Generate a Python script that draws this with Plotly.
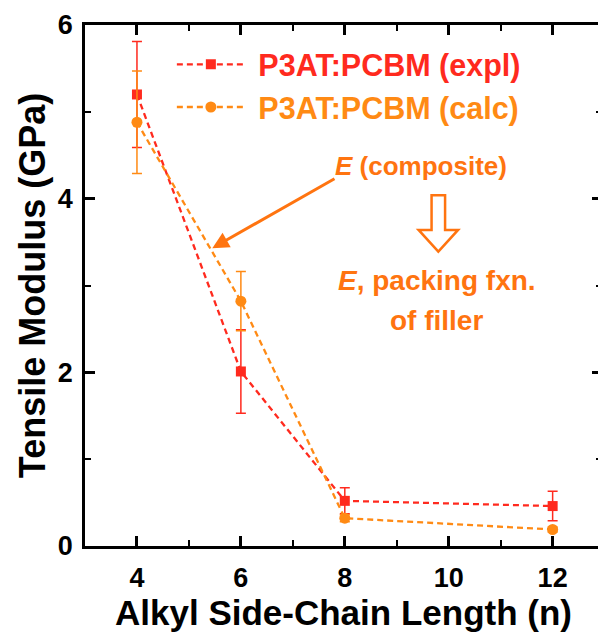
import plotly.graph_objects as go

# Data
n_values = [4, 6, 8, 12]
expl_modulus = [5.20, 2.01, 0.52, 0.46]
expl_err = [0.61, 0.48, 0.15, 0.17]
calc_modulus = [4.88, 2.82, 0.32, 0.19]
calc_err = [0.59, 0.34, 0.04, 0.03]

x_ticks = [4, 6, 8, 10, 12]
y_ticks = [0, 2, 4, 6]

RED = "#FF2A1E"
ORANGE = "#FF8A14"
ANN = "#FF7410"
FONT = "Liberation Sans, Arial, sans-serif"

fig = go.Figure()
fig.add_trace(go.Scatter(
    x=n_values, y=expl_modulus,
    name=f"&nbsp;<span style='color:{RED}'><b>P3AT:PCBM (expl)</b></span>",
    mode="lines+markers",
    line=dict(color=RED, width=2.3, dash="6px,4px"),
    marker=dict(symbol="square", size=10, color=RED),
    error_y=dict(type="data", array=expl_err, color=RED, thickness=1.5, width=5),
))
fig.add_trace(go.Scatter(
    x=n_values, y=calc_modulus,
    name=f"&nbsp;<span style='color:{ORANGE}'><b>P3AT:PCBM (calc)</b></span>",
    mode="lines+markers",
    line=dict(color=ORANGE, width=2.3, dash="6px,4px"),
    marker=dict(symbol="circle", size=11, color=ORANGE),
    error_y=dict(type="data", array=calc_err, color=ORANGE, thickness=1.5, width=5),
))

axis_common = dict(
    showline=True, linecolor="black", linewidth=2.5, mirror="ticks",
    ticks="inside", ticklen=10, tickwidth=2.5, tickcolor="black",
    showgrid=False, zeroline=False,
    tickfont=dict(family=FONT, size=27, color="black", weight="bold"),
)

fig.update_layout(
    width=598, height=631,
    margin=dict(l=77, r=1, t=17, b=93),
    paper_bgcolor="white", plot_bgcolor="white",
    font=dict(family=FONT),
    showlegend=True,
    legend=dict(
        x=0.168, y=0.975, xanchor="left", yanchor="top",
        bgcolor="rgba(0,0,0,0)", itemwidth=68,
        font=dict(family=FONT, size=30.5),
        tracegroupgap=0,
    ),
    xaxis=dict(
        range=[3, 12.95], tickvals=x_ticks, ticktext=[str(v) for v in x_ticks],
        minor=dict(dtick=1, ticks="inside", ticklen=6, tickwidth=2, tickcolor="black"),
        ticklabelstandoff=6,
        title=dict(text="<b>Alkyl Side-Chain Length (n)</b>",
                   font=dict(family=FONT, size=35, color="black"), standoff=8),
        **axis_common,
    ),
    yaxis=dict(
        range=[0, 6], tickvals=y_ticks, ticktext=[str(v) for v in y_ticks],
        minor=dict(dtick=1, ticks="inside", ticklen=6, tickwidth=2, tickcolor="black"),
        ticklabelstandoff=4,
        title=dict(text="<b>Tensile Modulus (GPa)</b>",
                   font=dict(family=FONT, size=36, color="black"), standoff=2),
        **axis_common,
    ),
)

# Annotations
fig.add_annotation(x=9.46, y=4.38, xref="x", yref="y",
                   text="<b><i>E</i> (composite)</b>", showarrow=False,
                   font=dict(family=FONT, size=26, color=ANN))
fig.add_annotation(x=5.45, y=3.43, ax=7.83, ay=4.24, xref="x", yref="y",
                   axref="x", ayref="y", text="", showarrow=True,
                   arrowhead=2, arrowsize=1.1, arrowwidth=3, arrowcolor=ANN)
fig.add_annotation(x=9.77, y=3.06, xref="x", yref="y",
                   text="<b><i>E</i>, packing fxn.</b>", showarrow=False,
                   font=dict(family=FONT, size=28, color=ANN))
fig.add_annotation(x=9.77, y=2.60, xref="x", yref="y",
                   text="<b>of filler</b>", showarrow=False,
                   font=dict(family=FONT, size=28, color=ANN))

# Hollow down arrow
cx, sh, hh = 9.8, 0.13, 0.38
ytop, yhead, ytip = 4.04, 3.64, 3.39
path = (f"M {cx-sh},{ytop} L {cx+sh},{ytop} L {cx+sh},{yhead} L {cx+hh},{yhead} "
        f"L {cx},{ytip} L {cx-hh},{yhead} L {cx-sh},{yhead} Z")
fig.add_shape(type="path", path=path, xref="x", yref="y",
              line=dict(color=ANN, width=2.5), fillcolor="white")

fig.write_html("out.html")
